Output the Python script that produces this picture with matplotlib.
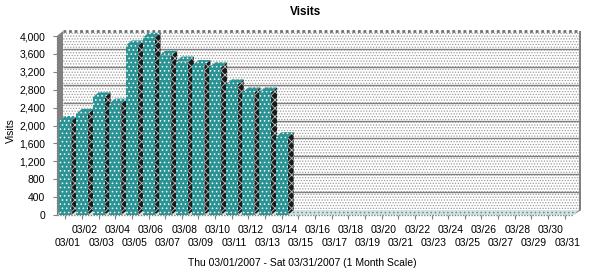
import matplotlib
matplotlib.use("Agg")
import matplotlib.pyplot as plt
import matplotlib.transforms as mtransforms
from matplotlib.patches import Polygon, Rectangle

# ---------------- data ----------------
days = [f"03/{d:02d}" for d in range(1, 32)]
visits = [2100, 2260, 2630, 2490, 3790, 3960, 3560, 3430, 3350, 3300,
          2920, 2740, 2740, 1740, 0, 0, 0, 0, 0, 0,
          0, 0, 0, 0, 0, 0, 0, 0, 0, 0, 0]
y_ticks = [0, 400, 800, 1200, 1600, 2000, 2400, 2800, 3200, 3600, 4000]
y_tick_labels = [f"{v:,}" for v in y_ticks]
title = "Visits"
x_label = "Thu 03/01/2007 - Sat 03/31/2007 (1 Month Scale)"
y_label = "Visits"

# ---------------- style ----------------
plt.rcParams["font.family"] = ["Liberation Sans", "DejaVu Sans"]
plt.rcParams["hatch.linewidth"] = 0.6
FS = 7.5
TEAL = "#2a9494"
GRAY = "#808080"

W, H = 609, 274
fig = plt.figure(figsize=(W / 100, H / 100), dpi=100)
fig.patch.set_facecolor("white")

# front plane in pixels
x0, x1 = 57, 573
yb, yt = 215, 36
ax = fig.add_axes([x0 / W, (H - yb) / H, (x1 - x0) / W, (yb - yt) / H])
xmin, xmax = 0.5, len(days) + 0.5
ymin, ymax = y_ticks[0], y_ticks[-1]
ax.set_xlim(xmin, xmax)
ax.set_ylim(ymin, ymax)
ax.patch.set_visible(False)
for s in ax.spines.values():
    s.set_visible(False)

# depth offset (pixels -> data units)
DXp, DYp = 6, 5
ddx = DXp * (xmax - xmin) / (x1 - x0)
ddy = DYp * (ymax - ymin) / (yb - yt)

# back wall
ax.add_patch(Rectangle((xmin + ddx, ymin + ddy), xmax - xmin, ymax - ymin,
                       facecolor="white", edgecolor="#9a9a9a", hatch="......",
                       lw=0, clip_on=False, zorder=0))
# gridlines on back wall
for v in y_ticks[1:-1]:
    ax.plot([xmin + ddx, xmax + ddx], [v + ddy, v + ddy], color=GRAY, lw=1.0,
            clip_on=False, zorder=1, solid_capstyle="butt")
# wall top and right edges
ax.plot([xmin + ddx, xmax + ddx], [ymax + ddy, ymax + ddy], color="#707070",
        lw=2.0, ls=(0, (1, 1)), clip_on=False, zorder=1)
ax.add_patch(Polygon([(xmax + ddx, ymin + ddy), (xmax + ddx, ymax + ddy),
                      (xmax + ddx * 1.4, ymax + ddy), (xmax + ddx * 1.4, ymin + ddy)],
                     closed=True, facecolor=GRAY, lw=0, clip_on=False, zorder=1))
# left side wall
ax.add_patch(Polygon([(xmin, ymin), (xmin, ymax), (xmin + ddx, ymax + ddy),
                      (xmin + ddx, ymin + ddy)], closed=True,
                     facecolor=GRAY, edgecolor="none", clip_on=False, zorder=1))
# floor
ax.add_patch(Polygon([(xmin, ymin), (xmax, ymin), (xmax + ddx, ymin + ddy),
                      (xmin + ddx, ymin + ddy)], closed=True,
                     facecolor="#d4e2e2", edgecolor="#4a9a9a", hatch="....",
                     lw=0, clip_on=False, zorder=1))
ax.add_patch(Polygon([(xmax, ymin), (xmax + ddx, ymin + ddy), (xmax + ddx * 1.4, ymin + ddy)],
                     closed=True, facecolor=GRAY, lw=0, clip_on=False, zorder=1))

# bars
bw = 0.72
xs = list(range(1, len(days) + 1))
for i, (x, v) in enumerate(zip(xs, visits)):
    if v <= 0:
        continue
    l, r = x - bw / 2, x + bw / 2
    z = 2 + i * 0.01
    side = Polygon([(r, 0), (r, v), (r + ddx, v + ddy), (r + ddx, ddy)], closed=True,
                   facecolor="#1a1a1a", edgecolor="#b8c4c4", hatch="xxxx", lw=0,
                   clip_on=False, zorder=z)
    top = Polygon([(l, v), (r, v), (r + ddx, v + ddy), (l + ddx, v + ddy)], closed=True,
                  facecolor=TEAL, edgecolor="white", hatch="....", lw=0,
                  clip_on=False, zorder=z)
    ax.add_patch(side)
    ax.add_patch(top)
    ax.bar([x], [v], width=bw, color=TEAL, edgecolor="white", hatch="....",
           lw=0, zorder=z + 0.005, clip_on=False)

# front axis lines (dotted)
ax.plot([xmin, xmin], [ymin, ymax], color=GRAY, lw=1, ls=(0, (1, 1)), clip_on=False, zorder=5)
ax.plot([xmin, xmax], [ymin, ymin], color=GRAY, lw=1, ls=(0, (1, 1)), clip_on=False, zorder=5)

# y ticks
ax.set_yticks(y_ticks, y_tick_labels)
ax.tick_params(axis="y", length=3, width=0.8, color=GRAY, pad=5.5, labelsize=FS)

# x ticks: two rows
even = [x for x in xs if x % 2 == 0]
odd = [x for x in xs if x % 2 == 1]
ax.set_xticks(even, [days[x - 1] for x in even])
ax.set_xticks(odd, [days[x - 1] for x in odd], minor=True)
ax.tick_params(axis="x", which="major", length=3, width=0.8, color=GRAY, pad=4.0, labelsize=FS)
ax.tick_params(axis="x", which="minor", length=3, width=0.8, color=GRAY, pad=13.5, labelsize=FS)
shift = mtransforms.ScaledTranslation(2.5 / 100, 0, fig.dpi_scale_trans)
for lbl in ax.get_xticklabels(which="both"):
    lbl.set_transform(lbl.get_transform() + shift)

# texts
fig.text(306 / W, 1 - 12 / H, title, ha="center", va="center", fontsize=8.5, fontweight="bold")
fig.text(11 / W, 1 - 131 / H, y_label, ha="center", va="center", rotation=90, fontsize=FS)
fig.text(302 / W, 1 - 263 / H, x_label, ha="center", va="center", fontsize=FS)

fig.savefig("out.png", dpi=100, facecolor="white")
